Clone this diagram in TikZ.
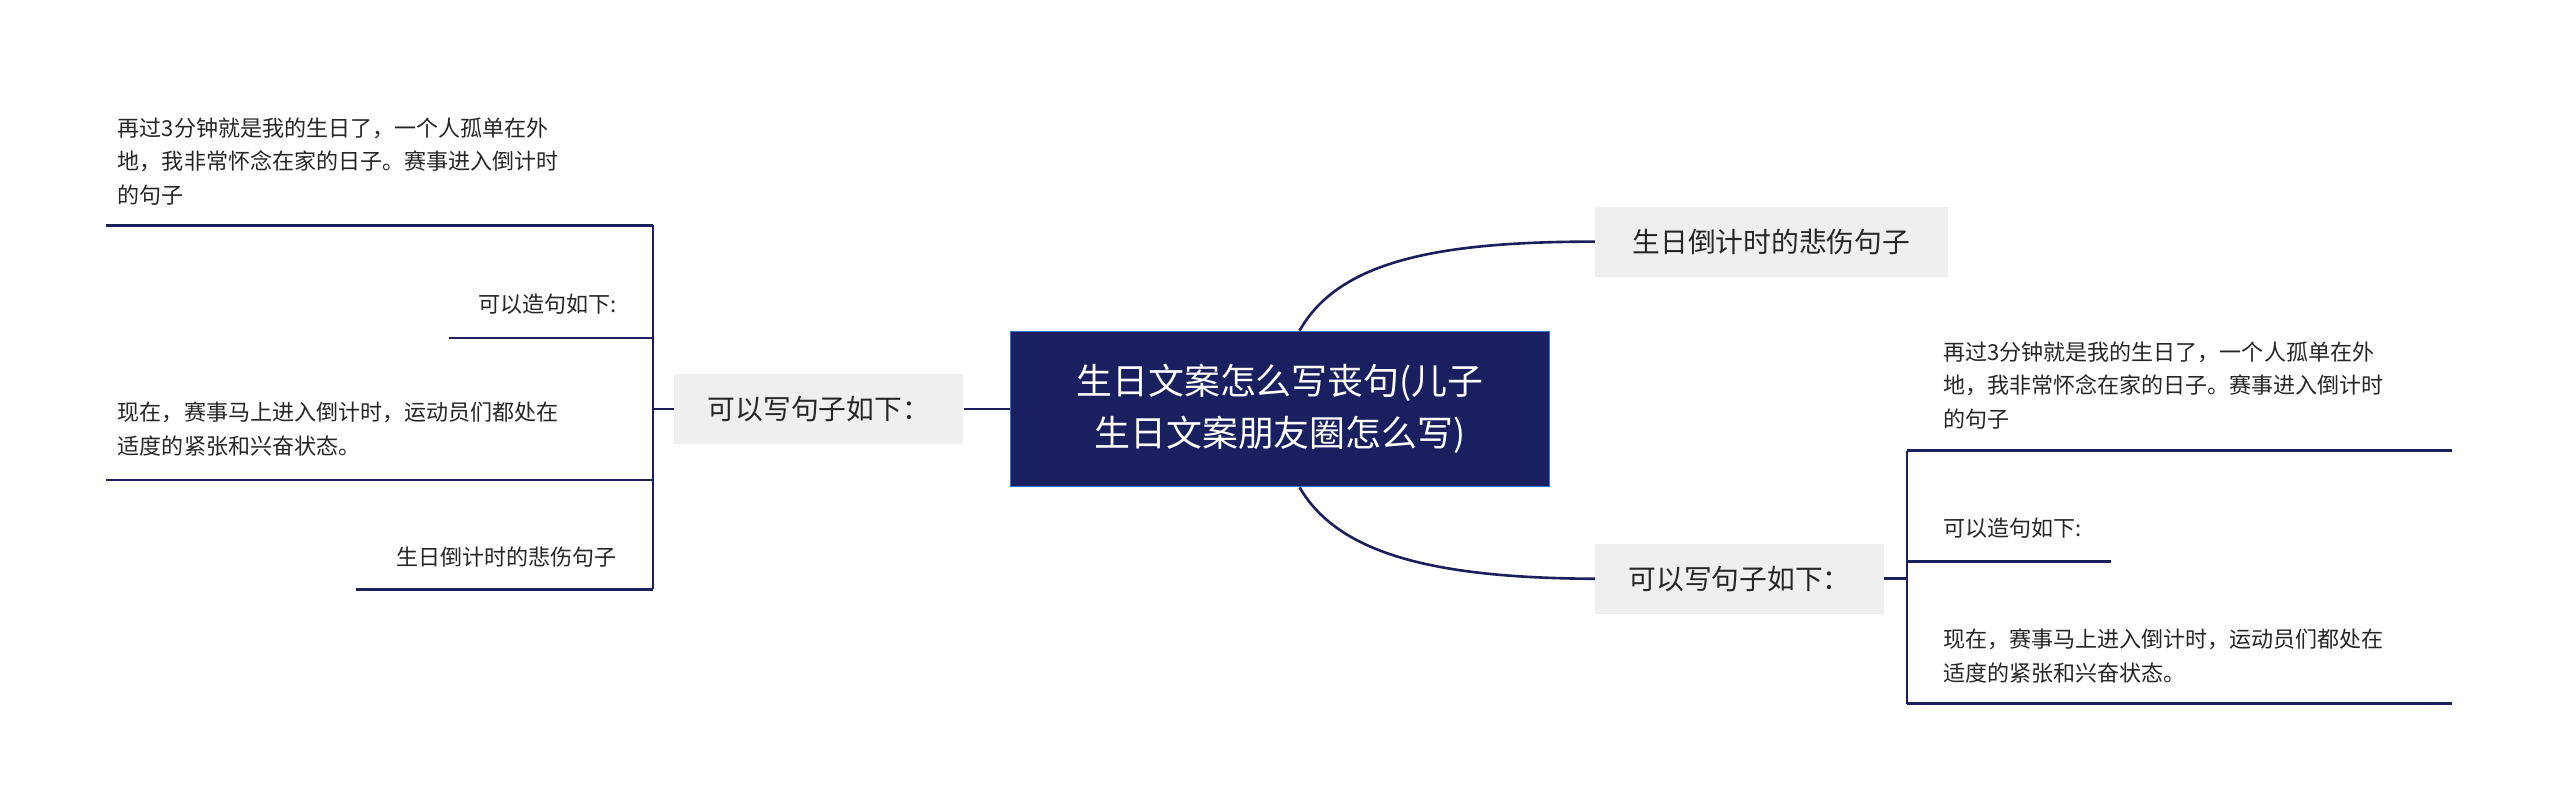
\documentclass[tikz,border=0pt]{standalone}
\usepackage{fontspec}
\setmainfont{Noto Sans CJK SC}
\begin{document}
\begin{tikzpicture}[x=1pt,y=-1pt,
  conn/.style={draw=navy,line width=1.6pt},
  topic/.style={fill=lightg,inner sep=0pt,minimum height=43pt,font=\fontsize{17}{20}\selectfont,text=black!85},
  leaf/.style={anchor=north west,inner sep=0pt,font=\fontsize{13.5}{20.5}\selectfont,text=black!85,align=left}]
\definecolor{navy}{HTML}{1B1F5C}
\definecolor{lightg}{HTML}{EFEFEF}
\definecolor{centerfill}{HTML}{1A1F60}
\definecolor{centerborder}{HTML}{3A6FD8}
\useasboundingbox[fill=white] (0,0) rectangle (1568,497);
% center
\node[fill=centerfill,draw=centerborder,line width=1pt,minimum width=330pt,minimum height=95pt,text=white,align=center,font=\fontsize{22}{32}\selectfont] (c) at (784,250.5) {生日文案怎么写丧句(儿子\\生日文案朋友圈怎么写)};
\node[topic,minimum width=216pt] (rt) at (1085,148) {生日倒计时的悲伤句子};
\node[topic,minimum width=177pt] (rb) at (1065.5,354.5) {可以写句子如下：};
\node[topic,minimum width=177pt] (lt) at (501.5,250.5) {可以写句子如下：};
\draw[conn] (c.north) ++(12,0) coordinate (ct) .. controls (820,160) and (880,148) .. (rt.west);
\draw[conn] (c.south) ++(12,0) coordinate (cb) .. controls (820,340) and (880,354) .. (rb.west);
\draw[conn] (lt.east) -- (c.west);
% left branch
\coordinate (lv1) at (400,138); \coordinate (lv2) at (400,361);
\draw[conn] (lv1) -- (lv2);
\draw[conn] (lt.west) -- (400,250.5);
\node[leaf] (l1) at (72,72) {再过3分钟就是我的生日了，一个人孤单在外\\地，我非常怀念在家的日子。赛事进入倒计时\\的句子};
\draw[conn] (65,138) -- (lv1);
\node[leaf,anchor=north east] (l2) at (378,180) {可以造句如下:};
\draw[conn] (275,207) -- (400,207);
\node[leaf] (l3) at (72,246) {现在，赛事马上进入倒计时，运动员们都处在\\适度的紧张和兴奋状态。};
\draw[conn] (65,294) -- (400,294);
\node[leaf,anchor=north east] (l4) at (378,335) {生日倒计时的悲伤句子};
\draw[conn] (218,361) -- (lv2);
% right branch
\coordinate (rv1) at (1168,276); \coordinate (rv2) at (1168,431);
\draw[conn] (rv1) -- (rv2);
\draw[conn] (rb.east) -- (1168,354.5);
\node[leaf] (r1) at (1190,209) {再过3分钟就是我的生日了，一个人孤单在外\\地，我非常怀念在家的日子。赛事进入倒计时\\的句子};
\draw[conn] (rv1) -- (1502,276);
\node[leaf] (r2) at (1190,317) {可以造句如下:};
\draw[conn] (1168,344) -- (1293,344);
\node[leaf] (r3) at (1190,385) {现在，赛事马上进入倒计时，运动员们都处在\\适度的紧张和兴奋状态。};
\draw[conn] (rv2) -- (1502,431);
\end{tikzpicture}
\end{document}
